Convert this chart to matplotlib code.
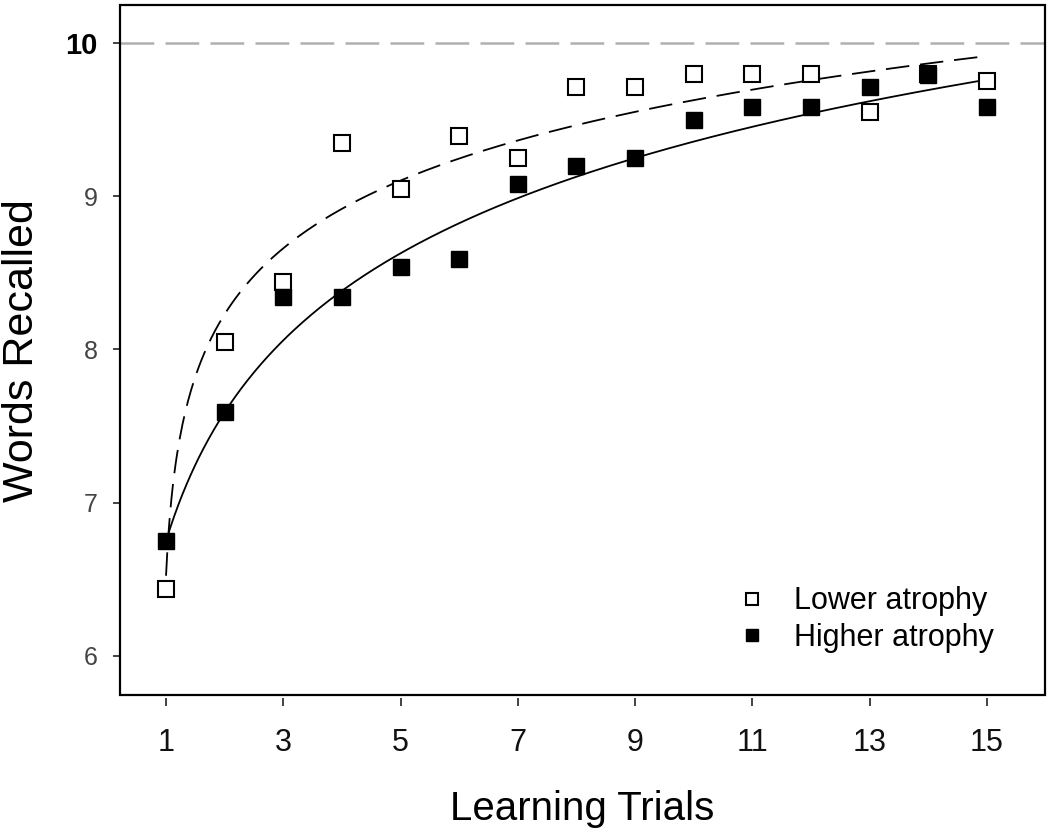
import numpy as np
import matplotlib
matplotlib.use("Agg")
import matplotlib.pyplot as plt
from matplotlib.patches import Rectangle

# data
trials = np.arange(1, 16)
lower_atrophy = [6.44, 8.05, 8.44, 9.35, 9.05, 9.39, 9.25, 9.71, 9.71,
                 9.80, 9.80, 9.80, 9.55, 9.80, 9.75]
higher_atrophy = [6.75, 7.59, 8.34, 8.34, 8.54, 8.59, 9.08, 9.20, 9.25,
                  9.50, 9.58, 9.58, 9.71, 9.79, 9.58]

# trend curves: y = a + b*L + c*L^2, L = ln(x - shift)
lower_trend = (8.18, 0.656, 0.0, 0.92)
higher_trend = (6.75, 1.247, -0.0499, 0.0)

ceiling = 10
x_ticks = [1, 3, 5, 7, 9, 11, 13, 15]
y_ticks = [6, 7, 8, 9, 10]

plt.rcParams["font.family"] = ["Liberation Sans", "DejaVu Sans"]


def trend(x, a, b, c, shift):
    L = np.log(x - shift)
    return a + b * L + c * L ** 2


fig = plt.figure(figsize=(10.5, 8.3), dpi=100)
ax = fig.add_axes([120 / 1050, 1 - 695 / 830, 925 / 1050, 690 / 830])

xx = np.linspace(trials[0], trials[-1], 600)

ax.axhline(ceiling, color="#b0b0b0", lw=1.8, dashes=(13.5, 4.5), zorder=1)
ax.plot(xx, trend(xx, *lower_trend), color="black", lw=1.3,
        dashes=(13, 6), zorder=2)
ax.plot(xx, trend(xx, *higher_trend), color="black", lw=1.3, zorder=2)

ax.plot(trials, lower_atrophy, ls="none", marker="s", ms=11,
        mfc="white", mec="black", mew=1.5, label="Lower atrophy", zorder=3)
ax.plot(trials, higher_atrophy, ls="none", marker="s", ms=11,
        mfc="black", mec="black", mew=1.0, label="Higher atrophy", zorder=4)

ax.set_xlim(0.215, 15.99)
ax.set_ylim(5.745, 10.248)

# frame drawn separately so the ticks sit a little outside it
for side in ax.spines:
    ax.spines[side].set_color("none")
ax.spines["bottom"].set_position(("outward", 2))
ax.spines["left"].set_position(("outward", 1))
ax.add_patch(Rectangle((0, 0), 1, 1, transform=ax.transAxes, fill=False,
                       lw=1.6, ec="black", clip_on=False, zorder=5))

ax.set_xticks(x_ticks)
ax.set_yticks(y_ticks)
ax.tick_params(axis="x", direction="out", length=6, width=1.2,
               color="#222222", pad=16, labelsize=22, labelcolor="#111111")
ax.tick_params(axis="y", direction="out", length=4, width=1.2,
               color="#222222", pad=11, labelsize=18, labelcolor="#444444")
ylab = ax.get_yticklabels()
ylab[-1].set_fontweight("bold")
ylab[-1].set_fontsize(21)
ylab[-1].set_color("black")

fig.text(582 / 1050, 1 - 820 / 830, "Learning Trials", fontsize=29,
         ha="center", va="baseline")
fig.text(33 / 1050, 1 - 351 / 830, "Words Recalled", fontsize=31,
         rotation=90, rotation_mode="anchor", ha="center", va="baseline")

leg = ax.legend(loc="upper left", bbox_to_anchor=(0.654, 0.175),
                frameon=False, fontsize=22, markerscale=0.85, numpoints=1,
                handlelength=1.0, handletextpad=0.85, labelspacing=0.2,
                borderaxespad=0)

fig.savefig("out.png", dpi=100)
